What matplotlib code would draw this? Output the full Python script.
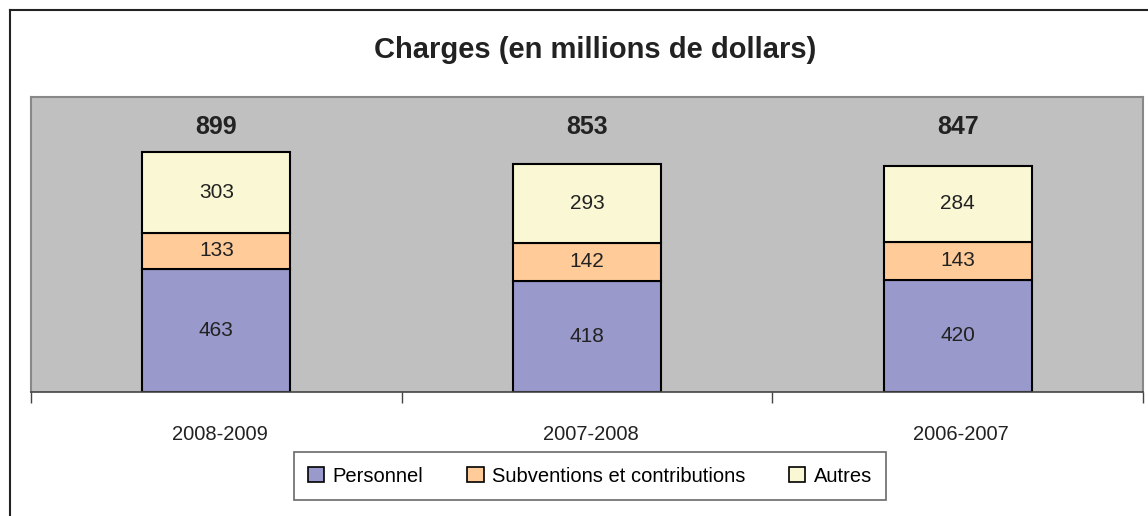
import numpy as np
import matplotlib.pyplot as plt
from matplotlib.patches import Rectangle
from matplotlib.lines import Line2D

plt.rcParams['font.family'] = ['Liberation Sans Narrow', 'Liberation Sans', 'DejaVu Sans']

years = ['2008-2009', '2007-2008', '2006-2007']
personnel = [463, 418, 420]
subventions = [133, 142, 143]
autres = [303, 293, 284]
totals = [899, 853, 847]
series_names = ['Personnel', 'Subventions et contributions', 'Autres']
colors = ['#9999CC', '#FFCC99', '#FAF8D4']

W, H = 1148, 516
fig = plt.figure(figsize=(W / 100, H / 100), dpi=100)

# outer chart frame (left and top edges visible, rest cropped)
fig.add_artist(Line2D([10 / W, 10 / W], [0, 1 - 10 / H], transform=fig.transFigure,
                      color='#222222', lw=1.5))
fig.add_artist(Line2D([10 / W, 1], [1 - 10 / H, 1 - 10 / H], transform=fig.transFigure,
                      color='#222222', lw=1.5))

ax = fig.add_axes([31 / W, (H - 392) / H, 1112 / W, 295 / H])
ax.set_facecolor('#C0C0C0')
for s in ['top', 'right', 'left']:
    ax.spines[s].set_color('#888888')
    ax.spines[s].set_linewidth(1.5)
ax.spines['bottom'].set_color('#444444')
ax.spines['bottom'].set_linewidth(1.2)

x = np.arange(len(years))
w = 0.4
bottom = np.zeros(len(years))
for vals, col in zip([personnel, subventions, autres], colors):
    ax.bar(x, vals, w, bottom=bottom, color=col, edgecolor='black', linewidth=1.5)
    for xi, b, v in zip(x, bottom, vals):
        ax.text(xi, b + v / 2, str(v), ha='center', va='center', fontsize=15, color='#222222')
    bottom += np.array(vals)

# totals sit on a common line above the bars
for xi, t in zip(x, totals):
    ax.text(xi, 0.90, str(t), ha='center', va='center', fontsize=18,
            fontweight='bold', color='#222222', transform=ax.get_xaxis_transform())

ax.set_xlim(-0.5, len(years) - 0.5)
ax.set_ylim(0, 1106)
ax.set_yticks([])
ax.set_xticks(np.arange(len(years) + 1) - 0.5)
ax.set_xticklabels([])
ax.set_xticks(x + 0.01, minor=True)
ax.set_xticklabels(years, minor=True, fontsize=14.5, color='#222222')
ax.tick_params(axis='x', which='major', direction='out', length=8, color='#444444', width=1)
ax.tick_params(axis='x', which='minor', length=0, pad=24)

fig.text(595 / W, 1 - 50 / H, 'Charges (en millions de dollars)', ha='center', va='center',
         fontsize=21, fontweight='bold', color='#222222')

handles = [Rectangle((0, 0), 1, 1, facecolor=c, edgecolor='black', linewidth=1.2) for c in colors]
leg = fig.legend(handles, series_names, loc='center', bbox_to_anchor=(590 / W, 1 - 476 / H),
                 ncol=3, fontsize=14.5, frameon=True, fancybox=False, edgecolor='#444444',
                 handlelength=0.8, handleheight=0.8, handletextpad=0.4, columnspacing=2.2,
                 borderpad=0.7)
leg.get_frame().set_linewidth(1.2)

fig.savefig('out.png', dpi=100)
